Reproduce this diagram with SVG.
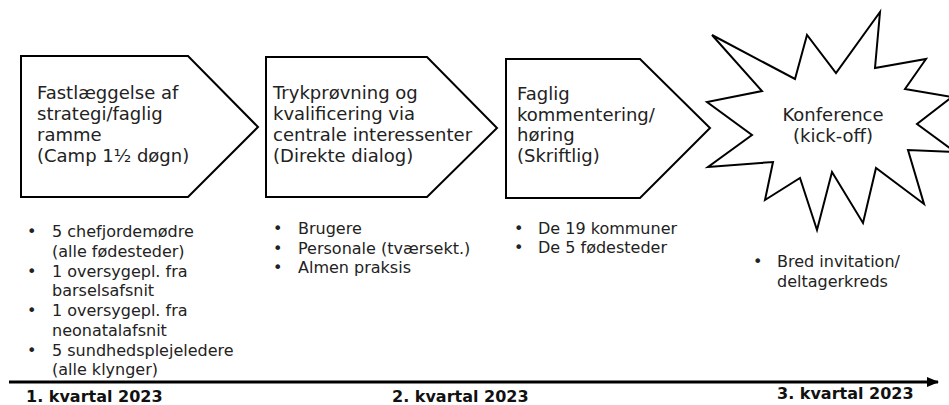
<svg xmlns="http://www.w3.org/2000/svg" width="949" height="405" viewBox="0 0 949 405">
<style>
.shape{fill:#fff;stroke:#000;stroke-width:2;stroke-linejoin:miter}
.t{font-family:"DejaVu Sans","Verdana",sans-serif;font-size:18px;fill:#222}
.b{font-family:"DejaVu Sans","Verdana",sans-serif;font-size:16px;fill:#222}
.q{font-family:"DejaVu Sans","Verdana",sans-serif;font-size:16px;font-weight:bold;fill:#111}
</style>
<defs>
<marker id="arr" markerWidth="12" markerHeight="10" refX="11" refY="5" orient="auto" markerUnits="userSpaceOnUse">
<path d="M0,0 L12,5 L0,10 Z" fill="#000"/>
</marker>
</defs>
<rect width="949" height="405" fill="#fff"/>

<g id="node-fastlaeggelse">
<polygon class="shape" points="21,56 188,56 258,127 188,197 21,197"/>
<text class="t" x="37" y="99">Fastlæggelse af</text>
<text class="t" x="37" y="120">strategi/faglig</text>
<text class="t" x="37" y="141">ramme</text>
<text class="t" x="37" y="162">(Camp 1½ døgn)</text>
</g>

<g id="node-trykproevning">
<polygon class="shape" points="266,57 427,57 497,128 427,197 266,197"/>
<text class="t" x="273" y="99">Trykprøvning og</text>
<text class="t" x="273" y="120">kvalificering via</text>
<text class="t" x="273" y="141">centrale interessenter</text>
<text class="t" x="273" y="162">(Direkte dialog)</text>
</g>

<g id="node-faglig">
<polygon class="shape" points="506,59 640,59 710,128 640,198 506,198"/>
<text class="t" x="517" y="100">Faglig</text>
<text class="t" x="517" y="121">kommentering/</text>
<text class="t" x="517" y="141">høring</text>
<text class="t" x="517" y="162">(Skriftlig)</text>
</g>

<g id="node-konference">
<polygon class="shape" points="712,35 795,79 807,35 836,73 880,12 875,68 926,59 905,89 952,97 917,124 955,152 908,150 924,204 876,168 863,223 832,172 817,230 800,178 765,200 773,162 708,167 752,135 707,102 762,91"/>
<text class="t" x="833" y="121" text-anchor="middle">Konference</text>
<text class="t" x="833" y="142" text-anchor="middle">(kick-off)</text>
</g>

<g id="list-1">
<text class="b" x="27" y="237">•</text><text class="b" x="52" y="237">5 chefjordemødre</text>
<text class="b" x="52" y="257">(alle fødesteder)</text>
<text class="b" x="27" y="277">•</text><text class="b" x="52" y="277">1 oversygepl. fra</text>
<text class="b" x="52" y="296">barselsafsnit</text>
<text class="b" x="27" y="316">•</text><text class="b" x="52" y="316">1 oversygepl. fra</text>
<text class="b" x="52" y="336">neonatalafsnit</text>
<text class="b" x="27" y="356">•</text><text class="b" x="52" y="356">5 sundhedsplejeledere</text>
<text class="b" x="52" y="375">(alle klynger)</text>
</g>

<g id="list-2">
<text class="b" x="273" y="234">•</text><text class="b" x="298" y="234">Brugere</text>
<text class="b" x="273" y="254">•</text><text class="b" x="298" y="254">Personale (tværsekt.)</text>
<text class="b" x="273" y="273">•</text><text class="b" x="298" y="273">Almen praksis</text>
</g>

<g id="list-3">
<text class="b" x="514" y="234">•</text><text class="b" x="538" y="234">De 19 kommuner</text>
<text class="b" x="514" y="253">•</text><text class="b" x="538" y="253">De 5 fødesteder</text>
</g>

<g id="list-4">
<text class="b" x="753" y="267">•</text><text class="b" x="777" y="267">Bred invitation/</text>
<text class="b" x="777" y="287">deltagerkreds</text>
</g>

<g id="connectors">
<line x1="9" y1="382" x2="938" y2="382" stroke="#000" stroke-width="3" marker-end="url(#arr)"/>
</g>

<g id="timeline-labels">
<text class="q" x="26" y="402">1. kvartal 2023</text>
<text class="q" x="392" y="402">2. kvartal 2023</text>
<text class="q" x="777" y="399">3. kvartal 2023</text>
</g>
</svg>
